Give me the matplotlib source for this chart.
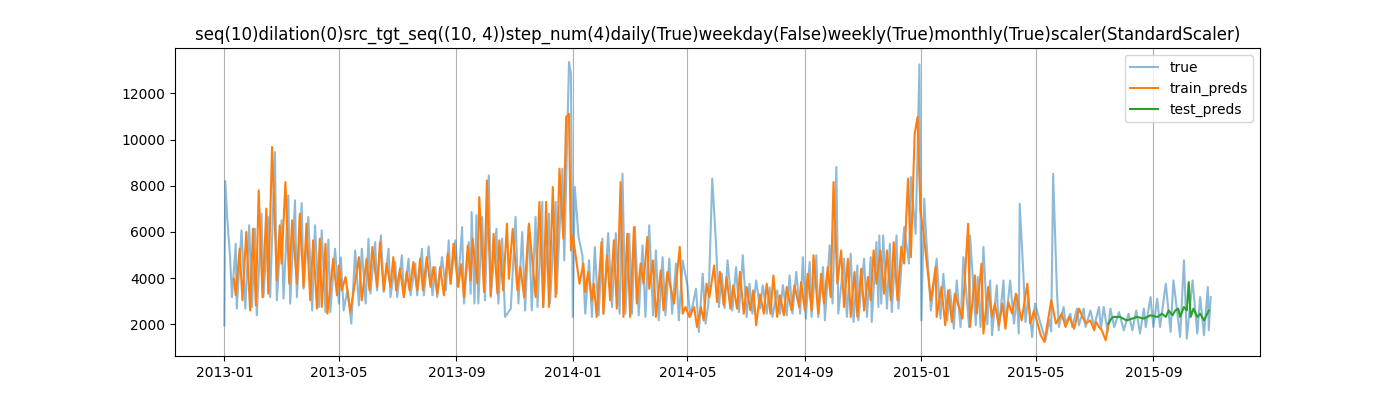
import matplotlib
matplotlib.use("Agg")
import matplotlib.pyplot as plt
import matplotlib.dates as mdates
import pandas as pd

START = "2013-01-01"

true_days = [0,1,3,6,8,12,13,18,22,26,29,32,34,39,41,46,48,53,55,60,62,67,69,74,76,81,83,88,92,95,99,102,106,109,111,116,120,122,
    125,129,133,137,141,144,148,151,153,158,160,164,167,172,174,179,181,186,188,193,195,200,202,207,209,214,218,221,223,228,232,235,237,242,245,249,251,256,
    258,259,262,264,266,270,273,277,279,285,287,291,294,300,305,308,312,315,319,322,326,328,333,334,340,341,347,348,354,356,361,363,365,367,371,375,378,382,385,388,
    392,396,397,402,406,410,414,417,420,424,427,430,434,438,441,445,449,452,455,459,462,466,469,473,476,480,485,488,494,497,501,504,507,511,515,518,
    521,524,527,532,536,539,543,547,550,553,557,561,564,568,571,574,579,582,585,589,592,595,599,603,606,609,613,615,620,622,627,629,634,637,641,643,649,
    652,656,659,663,664,670,673,677,678,683,685,686,688,690,694,697,699,704,706,712,717,719,724,728,730,733,735,740,746,750,753,757,760,764,767,771,774,
    780,781,787,789,792,795,799,802,804,809,811,816,818,823,827,830,832,833,837,839,842,846,849,855,860,864,866,868,872,874,879,881,886,888,893,895,900,902,907,
    911,916,918,921,925,928,932,937,942,947,951,955,959,963,965,970,973,977,980,986,991,994,1001,1005,1008,1014,1019,1022,1026,1030,1031,1033]
true_vals = [1950,8200,6650,4900,3180,5490,2680,6070,2680,6290,2750,6140,2390,6790,3180,6650,3180,9460,3040,6500,3110,7580,2900,7370,3180,7250,3540,6650,2600,6290,2750,6070,2530,5670,2530,5275,2900,4900,
    2600,3500,2030,5200,2820,5275,2900,5710,3330,5560,3470,5850,3400,5275,3180,4700,3180,4990,3180,4840,3255,4630,3255,5275,3255,5380,3255,4480,3180,4910,3470,5640,3760,5640,3760,6210,2900,5560,
    3330,6860,2900,6720,2900,6650,3040,8450,3180,6140,2900,5710,2320,2680,6650,2900,6000,2600,6290,2600,6650,2750,7300,2750,6790,2900,7300,3330,8740,4770,13360,12850,2320,7950,5780,4990,2460,4770,2320,5350,
    2390,5710,2460,5950,2750,5950,2460,8520,2460,5920,2460,6210,2390,5420,2320,6290,2390,5200,2170,4910,2390,4840,2460,4630,2170,4770,3690,2320,3540,1670,4190,2030,2900,8310,5420,2750,
    4200,2700,4770,2600,4480,2530,4990,2320,3760,2460,3900,2680,3690,2460,3600,2320,3470,2460,3700,2390,4120,2460,4270,2460,4910,2250,4700,2320,4990,2320,4480,2170,5420,2900,8810,2460,4840,
    2320,5060,2100,4550,2170,4840,2320,4910,2100,5560,2750,5850,2900,5850,2680,5490,2530,5850,2680,6210,4630,8380,5920,13255,2170,7440,5780,2600,4840,2250,4190,2170,3500,1810,3900,1885,4910,
    1885,5850,1960,4050,1885,5350,2000,3900,1525,3690,1740,3900,1885,3900,2030,3255,1600,7220,4050,2100,3180,1450,2900,2000,1310,2200,1700,8520,3400,1885,2750,2030,2460,1885,2680,1960,2680,1885,2600,
    1900,2750,1810,2750,1670,2680,1885,2530,1740,2460,1740,2600,1600,2680,1885,3180,1885,3110,1885,3760,1670,3900,1450,4770,1380,3900,1600,3180,1525,3620,1740,3180]

train_days = [10,12,16,19,23,27,30,33,36,40,44,46,50,55,58,60,64,68,71,76,79,83,86,90,93,97,100,102,106,108,114,118,120,123,
    127,132,141,144,149,152,155,160,163,167,170,174,177,180,184,188,191,194,198,202,205,208,212,216,219,223,226,230,234,237,240,245,248,251,255,
    258,260,265,267,272,275,279,282,286,288,292,296,298,302,307,310,314,319,326,330,334,337,340,344,347,351,355,358,361,363,365,372,376,378,381,385,387,
    390,395,397,401,404,408,411,415,418,422,425,429,432,436,439,443,445,449,452,457,460,464,471,477,480,483,487,492,495,499,502,505,508,513,
    516,519,523,526,530,533,537,540,544,547,551,554,557,561,565,568,572,575,579,582,586,589,594,597,602,604,608,611,615,617,622,625,628,632,635,638,642,646,649,
    653,656,660,663,667,670,674,677,680,683,687,691,694,698,701,705,709,712,716,719,723,726,729,732,735,740,745,746,751,755,758,762,765,773,779,
    781,786,788,793,795,800,804,807,811,815,818,821,825,829,835,841,844,848,855,859,866,871,877,881,885,890,895,902,907,911,
    913,916,919,923,926]
train_vals = [3980,3255,5275,3040,6000,2600,6140,2820,7800,3180,7010,3330,9680,3900,6290,4630,8160,3760,6500,3760,6790,3620,6360,3040,5640,2680,5710,2750,5490,2460,4840,3255,4550,3470,
    4050,2530,4910,3040,4840,3470,5350,3620,5560,3470,4630,3620,4910,3470,4410,3180,4270,3470,4700,3470,4840,3470,4910,3620,4480,3330,4480,3255,5060,3760,5490,3620,4600,3180,5420,
    3900,5710,3760,7510,3400,8230,3255,5920,3330,5640,3470,6360,3970,6140,3470,4480,3180,6360,3180,7300,2750,7300,2750,7950,3180,8740,5710,10980,11120,5200,5850,3760,4630,3400,4270,3040,3760,
    2320,5560,2460,4990,3040,5640,2680,8160,2320,5920,2320,6210,2900,4630,3760,5780,3540,4770,2320,4340,2600,4270,2900,5350,2460,2750,2320,2750,1885,2750,2170,3760,3180,4550,
    2970,4270,2820,4050,2680,3690,2680,4270,2460,3620,2600,3470,1960,3300,2460,3760,2460,4120,2320,3255,2390,3620,2600,3690,2750,3830,2600,4190,2600,4990,2460,4190,2900,4480,3180,8160,3760,5200,2750,
    4840,2320,4270,2320,4410,2600,4050,3040,5200,3760,5200,3330,5200,3040,5560,3040,5350,4630,8310,4910,10255,10980,6935,6070,4910,3040,4480,2320,3620,1960,3470,2100,3330,2250,6360,
    1885,4120,2460,4630,1600,3620,2320,2900,1960,2900,1810,2970,2460,3330,2170,3760,2030,2600,1525,1235,3040,2030,2460,1885,2320,1810,2680,2030,2170,1740,
    2100,1885,1740,1310,2030]

test_days = [926,929,931,938,945,951,956,963,970,977,982,986,989,993,996,999,1001,1005,1008,1010,1012,1015,1019,1022,1026,1031]
test_vals = [2030,2250,2320,2320,2170,2250,2320,2250,2390,2320,2460,2320,2600,2390,2600,2680,2320,2750,2600,3830,2320,2680,2320,2460,2170,2600]

title = ("seq(10)dilation(0)src_tgt_seq((10, 4))step_num(4)daily(True)weekday(False)"
         "weekly(True)monthly(True)scaler(StandardScaler)")

start = pd.Timestamp(START)
def to_dates(days):
    return start + pd.to_timedelta(days, unit="D")

fig, ax = plt.subplots(figsize=(14, 4), dpi=100)
ax.plot(to_dates(true_days), true_vals, color="C0", alpha=0.5, label="true")
ax.plot(to_dates(train_days), train_vals, color="C1", label="train_preds")
ax.plot(to_dates(test_days), test_vals, color="C2", label="test_preds")
ax.xaxis.set_major_locator(mdates.MonthLocator(bymonth=[1, 5, 9]))
ax.xaxis.set_major_formatter(mdates.DateFormatter("%Y-%m"))
ax.grid(True, axis="x")
ax.set_title(title)
ax.legend(loc="upper right")
fig.savefig("out.png")
